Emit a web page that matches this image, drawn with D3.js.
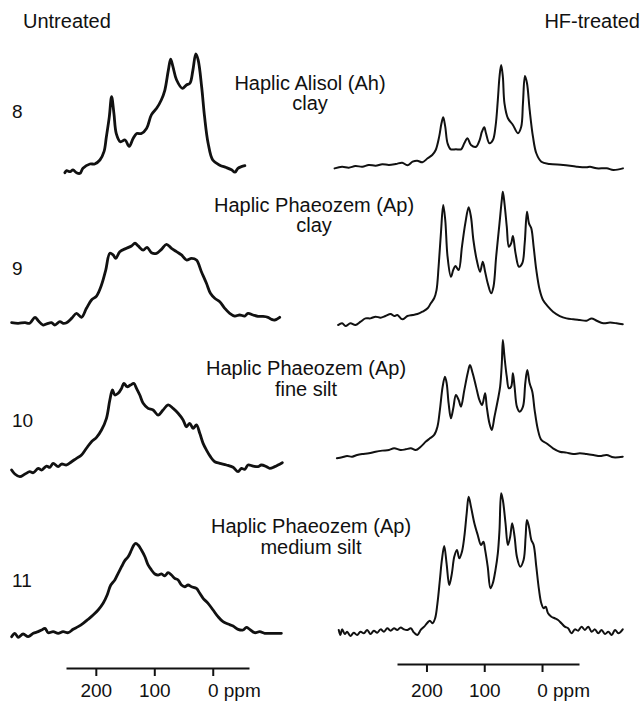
<!DOCTYPE html>
<html>
<head>
<meta charset="utf-8">
<script src="https://cdn.jsdelivr.net/npm/d3@7"></script>
<style>
  html, body { margin: 0; padding: 0; background: #fff; }
  svg { display: block; font-family: "Liberation Sans", Arial, Helvetica, sans-serif; }
</style>
</head>
<body>
<div id="chart"></div>
<script>
// 13C CP/MAS NMR spectra, untreated vs HF-treated soil fractions

const sampleIds = ["8", "9", "10", "11"];
const soilNames = ["Haplic Alisol (Ah)", "Haplic Phaeozem (Ap)", "Haplic Phaeozem (Ap)", "Haplic Phaeozem (Ap)"];
const fractions = ["clay", "clay", "fine silt", "medium silt"];
const axisTicks = [200, 100, 0];

// [ppm, intensity a.u.]
const untreated8 = [
  [253,-1.5],[250,0.3],[244,-0.6],[239,0.9],[233,-1.5],[227,-2],[222,2.3],[210,6],[202,6],[193,9.4],
  [186,16.5],[182,29],[177,46],[173,63.5],[169,49],[165,32],[158,25],[150,26.5],[143,21],[136,28],
  [130,32],[122,32],[113,36.5],[105,48],[96,53.6],[88,60.7],[82,69],[76,86],[72,95.5],[68,89],
  [62,78],[52,70.7],[45,73.5],[39,75],[34,86],[29,100],[25,95],[19,72],[14,46.4],[8,24],
  [0,9.4],[-12,5],[-23,3],[-32,1],[-38,-1],[-43,2.3],[-49,3.7],[-55,4.5]
];
const hf8 = [
  [359,-0.3],[346,1.1],[334.5,0.3],[323,1.7],[311,1.1],[300,2.6],[288,2],[276.5,3.2],[265,2.6],[253,3.4],
  [242,4.5],[233,2.3],[224,5.4],[216,6.2],[207,4.9],[198,8.3],[190,11.1],[184,15.4],[178,26.8],[174,38.2],
  [171,43.3],[167.5,35.3],[163.5,21.1],[158,16],[149,16],[140,16],[134.5,21.1],[129,25.4],[123,19.7],[114,18.2],
  [108,23.9],[104,31],[100,34.8],[97,29.7],[91,21.1],[85,23.9],[80.5,35.3],[76.5,58],[73.6,78],[70.7,88],
  [67.8,78],[65,55.3],[59,42.5],[50.4,36.8],[41.7,29.7],[36,35.3],[33,55.3],[29.6,78.6],[26,72.4],[21.4,49.6],
  [15.7,26.8],[9.9,12.6],[1.2,5.4],[-13,3.4],[-36.5,2.6],[-60,1.1],[-77,0.6],[-83,1.1],[-94.5,-0.3],[-112,-0.3],
  [-123.5,-1.7],[-140,-0.3]
];
const untreated9 = [
  [344,0],[333,-0.5],[321,0],[313,-0.5],[304,4.6],[298.5,1.7],[290,-2],[281.5,-0.5],[275.8,0],[270,-2],
  [261.5,0.9],[256,-0.5],[250,0],[241.5,3.7],[233,8],[224.5,4.6],[216,12.3],[207.4,19.4],[198.8,22.8],[190.3,32.2],
  [183,45],[176,59.3],[170.4,57.9],[165.8,55],[159,60.7],[147.5,63.6],[139,65.6],[133,67.9],[127.6,65.6],[119,62.1],
  [112.3,64.4],[104.8,59.8],[96.2,59.3],[87.7,62.7],[79.2,67],[70.6,63.6],[62,60.7],[53.5,57.9],[45,53.6],[36.4,55],
  [27.9,53.6],[19.4,43.6],[10.8,33.7],[4,25.1],[-3.4,20.9],[-12,17.9],[-20.5,12.3],[-29,8],[-37.6,5.7],[-46,6.6],
  [-54.7,5.7],[-60.3,8],[-68.9,6.6],[-77.4,5.4],[-86,5.4],[-94.5,4.6],[-100.3,2.9],[-106,2.3],[-114.5,4.6]
];
const hf9 = [
  [353,-0.9],[346,0.6],[340,-1.7],[331.6,0.6],[323,-0.9],[314,2],[305.5,4.8],[297,4.8],[288,6.3],[279.5,5.4],
  [271,6.8],[262,8.5],[256,6.8],[250.4,7.7],[241.7,4],[233,6.8],[224,7.7],[215.7,8.5],[207,10.5],[198,13.4],
  [192.5,17.7],[186.7,22],[182.6,29],[179,49],[175,77.5],[171,101.7],[167.5,88.9],[163.5,57.5],[157.7,40.4],[153.6,46.2],
  [150,49.6],[144.3,46.2],[138.6,66],[132.8,86],[127,99.7],[123,91.7],[118.8,71.8],[113,54.7],[107.2,44.7],[102.6,53.2],
  [98.5,44.7],[94,34.8],[88,26.2],[84,31.9],[79.4,57.5],[73.6,86],[69.6,106],[67.8,113],[65,103.2],[61,83.2],
  [57.4,66],[53.4,69],[50.4,75.2],[45.8,60.4],[40,49],[34.2,51.9],[30,69],[26,96],[22.6,86],[18.6,81.8],
  [14.5,66],[9.9,46.2],[4,29],[-1.7,20.5],[-10.4,14.8],[-19,10.5],[-30.7,6.8],[-42.3,4.8],[-54,4],[-65.5,3.4],
  [-77,2.8],[-85.8,4.8],[-94.5,2.8],[-106,0.6],[-117.7,1.2],[-129,0.6],[-139.7,-0.3]
];
const untreated10 = [
  [344,3.4],[338.5,0],[330,-2.3],[321,0],[313,2],[307,1.1],[298.6,4.8],[292.8,3.4],[284.3,6.8],[278.6,5.7],
  [273,9.1],[264.4,6.3],[258.6,8.5],[250,7.7],[241.5,10.5],[233,13.4],[224.5,16.2],[216,22],[207.4,27.6],[198.8,31.3],
  [190.3,37.6],[181.8,47.6],[176,63.2],[171.5,71.8],[167.5,67.5],[161.8,69],[156,73.2],[152,77.5],[146.5,74.6],[140.7,76],
  [135,77.5],[130.4,73.2],[124.8,67.5],[119,60.4],[110.6,56.1],[102,54.7],[93.5,50.4],[85,54.7],[76.4,59],[67.8,56.1],
  [59.3,51.9],[50.7,46.2],[45,40.4],[39.3,43.3],[33.6,39],[27.9,41.9],[22.2,34.8],[16.5,26.2],[10.8,20.5],[4,14.8],
  [-3.4,10.5],[-12,9.1],[-23.4,7.7],[-34.8,5.7],[-43.3,2],[-49,4.8],[-54.7,4],[-60.3,7.7],[-69,6.8],[-77.4,6.3],
  [-83,7.7],[-91.8,6.3],[-97.4,4.8],[-106,6.3],[-111.6,7.7],[-119,9.7]
];
const hf10 = [
  [355,-0.3],[346,0.6],[337.4,1.7],[328.7,1.1],[320,2.6],[311.3,3.4],[299.7,4],[288,5.4],[276.5,6.3],[265,6.8],
  [256,8.3],[244.6,6.8],[236,7.4],[227,8.3],[218.6,6.8],[210,9.7],[201,14],[194,16.8],[186.7,19.7],[181,26.8],
  [176.8,41],[172,61],[168,69.5],[165,63.8],[161.7,46.8],[157.7,33.9],[153.6,42.5],[149,53.8],[144.3,49.6],[140.3,43.9],
  [134.5,58],[128.7,72.4],[124.7,79.5],[120,72.4],[114.2,61],[108.4,49.6],[103.8,45.3],[98.5,55.3],[95.7,43.9],[91,29.6],
  [87,23.9],[82.3,35.3],[76.5,49.6],[72.5,61],[69.6,80.9],[67.8,100.9],[65,86.6],[61,69.5],[57.4,59.6],[53.4,61],
  [50.4,72.4],[47.5,61],[43.5,43.9],[38.8,39.6],[33,43.9],[29,63.8],[25.5,75.2],[21.4,63.8],[16.8,56.7],[12.8,41],
  [7,23.9],[1.2,15.4],[-7.5,12.6],[-19,8.3],[-30.7,5.4],[-42.3,4.6],[-54,3.4],[-65.5,4],[-77,3.4],[-88.7,2.6],
  [-100.3,1.7],[-111.8,2.6],[-123.5,0.6],[-139.7,1.1]
];
const untreated11 = [
  [344,-2.3],[338.5,0.6],[332.8,-2.8],[324.3,0],[315.7,-2.3],[307,0.6],[298.6,2],[292.8,3.4],[287,4.8],[281.5,1.1],
  [273,2],[264.4,0.6],[256,2],[247.3,1.1],[238.8,4],[230.2,6.3],[221.7,9.1],[213,12.6],[204.6,16.2],[196,20.5],
  [187.5,26.2],[180.6,33.3],[174.4,41.9],[167.5,46.2],[161.8,51.9],[156,57.5],[150.4,62.7],[144.7,66],[139,71.8],[135,76],
  [131.6,77.5],[127.6,76],[122,71.8],[116,66],[110.6,59],[104.8,54.7],[99,51.3],[93.5,50.4],[87.7,51.3],[82,49.6],
  [76.4,52.4],[70.6,50.4],[65,47.6],[59.3,46.2],[53.5,41.9],[47.9,40.4],[42.2,41.9],[36.4,40.4],[27.9,39],[22.2,34.8],
  [16.5,30.5],[8,26.2],[-0.6,20.5],[-9,14.8],[-17.6,10.5],[-26.2,8.5],[-34.8,6.8],[-43.3,4],[-51.8,3.4],[-57.6,5.7],
  [-63.2,4],[-71.8,1.1],[-80.3,2],[-88.9,0.6],[-97.4,0.6],[-106,0.6],[-117.4,0.6]
];
const hf11 = [
  [351.8,2.6],[349,-1.7],[346,3.1],[341.4,-0.9],[337.4,1.1],[331.6,-2.6],[325.8,0.3],[320,-1.7],[314.2,1.1],[308.4,-0.3],
  [302.6,2.6],[296.8,-0.9],[291,2],[285.2,0.3],[279.4,3.1],[273.6,1.1],[267.8,4],[262,2],[256.2,4],[250.4,2.6],
  [244.6,4.8],[238.8,3.1],[233,2.6],[227.2,4],[221.4,0.3],[215.7,-1.7],[209.9,2.6],[204,5.4],[198.3,8.8],[194.2,10.5],
  [189.6,8.3],[185,12.6],[181,25.4],[176.8,45.3],[173.3,62.4],[169.3,74.4],[165.2,59.6],[160.6,41],[156,51],[151.9,65.2],
  [147.3,71],[143.2,63.8],[138.6,69.5],[134.5,82.3],[130.4,102.3],[127,116.5],[123,108],[117.1,93.8],[111.3,83.8],[105.5,75.2],
  [101.4,78],[98.5,71],[94,56.7],[89.2,38.2],[85.2,42.5],[80.6,53.8],[76.5,68.1],[73.6,88],[70.7,119.4],[67.8,113.7],
  [63.2,93.8],[59.1,75.2],[55.1,82.3],[51.6,93.8],[47.5,82.3],[43.5,65.2],[37.7,56.7],[31.9,62.4],[28.4,82.3],[26.1,96.6],
  [22.6,90.9],[18.5,79.5],[14.5,75.2],[9.9,56.7],[5.2,36.8],[1.2,25.4],[-2.9,21.1],[-6.4,22.5],[-10.4,16.8],[-16.2,13.9],
  [-22,12.6],[-27.8,11.1],[-33.6,8.3],[-39.4,5.4],[-45.2,4],[-51,-0.3],[-56.8,3.1],[-62.6,2],[-68.4,5.4],[-74.2,2.6],
  [-80,5.4],[-85.8,1.1],[-91.6,3.1],[-97.4,-0.3],[-103.1,2.6],[-109,-0.9],[-114.8,1.1],[-120.5,-1.7],[-126.4,2.6],[-132.2,-0.3],
  [-139.7,3.1]
];

const untreatedSpectra = [untreated8, untreated9, untreated10, untreated11];
const hfSpectra = [hf8, hf9, hf10, hf11];

// Layout
const W = 644, H = 706;
const font = 20;
const leftBase = [171, 322.7, 474, 634];
const rightBase = [168, 324, 458, 633];
const labelCx = [310, 314, 306, 311];
const labelY = [89.5, 211.7, 375, 533.3];
const idY = [118.3, 275, 426.7, 586.7];

const svg = d3.select("#chart").append("svg")
  .attr("width", W).attr("height", H);

// ppm axes run right to left
const xLeft = d3.scaleLinear().domain([251, -62]).range([66, 249]);
const xRight = d3.scaleLinear().domain([251, -64]).range([397, 579]);
const yAmp = d3.scaleLinear().domain([0, 100]).range([0, 117]);

function drawSpectrum(data, x, base, width) {
  const line = d3.line()
    .x(d => x(d[0]))
    .y(d => base - yAmp(d[1]))
    .curve(d3.curveCatmullRom.alpha(0.5));
  svg.append("path")
    .datum(data)
    .attr("d", line)
    .attr("fill", "none")
    .attr("stroke", "#111")
    .attr("stroke-width", width)
    .attr("stroke-linejoin", "round")
    .attr("stroke-linecap", "round");
}

untreatedSpectra.forEach((s, i) => drawSpectrum(s, xLeft, leftBase[i], 2.8));
hfSpectra.forEach((s, i) => drawSpectrum(s, xRight, rightBase[i], 2));

// Column headers
svg.append("text").attr("x", 23).attr("y", 28.3)
  .attr("font-size", font).attr("fill", "#111").text("Untreated");
svg.append("text").attr("x", 640).attr("y", 28.3).attr("text-anchor", "end")
  .attr("font-size", font).attr("fill", "#111").text("HF-treated");

// Sample numbers
svg.selectAll("text.sid")
  .data(sampleIds).join("text").attr("class", "sid")
  .attr("x", 12)
  .attr("y", (d, i) => idY[i])
  .attr("font-size", 19).attr("fill", "#111")
  .text(d => d);

// Soil / fraction labels
soilNames.forEach((name, i) => {
  const t = svg.append("text")
    .attr("text-anchor", "middle")
    .attr("font-size", font).attr("fill", "#111");
  t.append("tspan").attr("x", labelCx[i]).attr("y", labelY[i]).text(name);
  t.append("tspan").attr("x", labelCx[i]).attr("y", labelY[i]).attr("dy", 20.5).text(fractions[i]);
});

// ppm scales
function drawAxis(x, y, pad) {
  const g = svg.append("g")
    .attr("transform", `translate(0,${y})`)
    .call(d3.axisBottom(x)
      .tickValues(axisTicks)
      .tickSize(8)
      .tickSizeOuter(0)
      .tickPadding(pad)
      .tickFormat(d => d === 0 ? "0 ppm" : d));
  g.select(".domain").attr("stroke", "#111").attr("stroke-width", 2);
  g.selectAll(".tick line").attr("stroke", "#111").attr("stroke-width", 2);
  g.selectAll(".tick text")
    .attr("font-size", 19)
    .attr("font-family", "Liberation Sans, Arial, sans-serif")
    .attr("fill", "#111");
  g.selectAll(".tick text").filter(d => d === 0)
    .attr("text-anchor", "start")
    .attr("dx", "-0.28em");
}

drawAxis(xLeft, 668, 7.5);
drawAxis(xRight, 664, 11.5);
</script>
</body>
</html>
